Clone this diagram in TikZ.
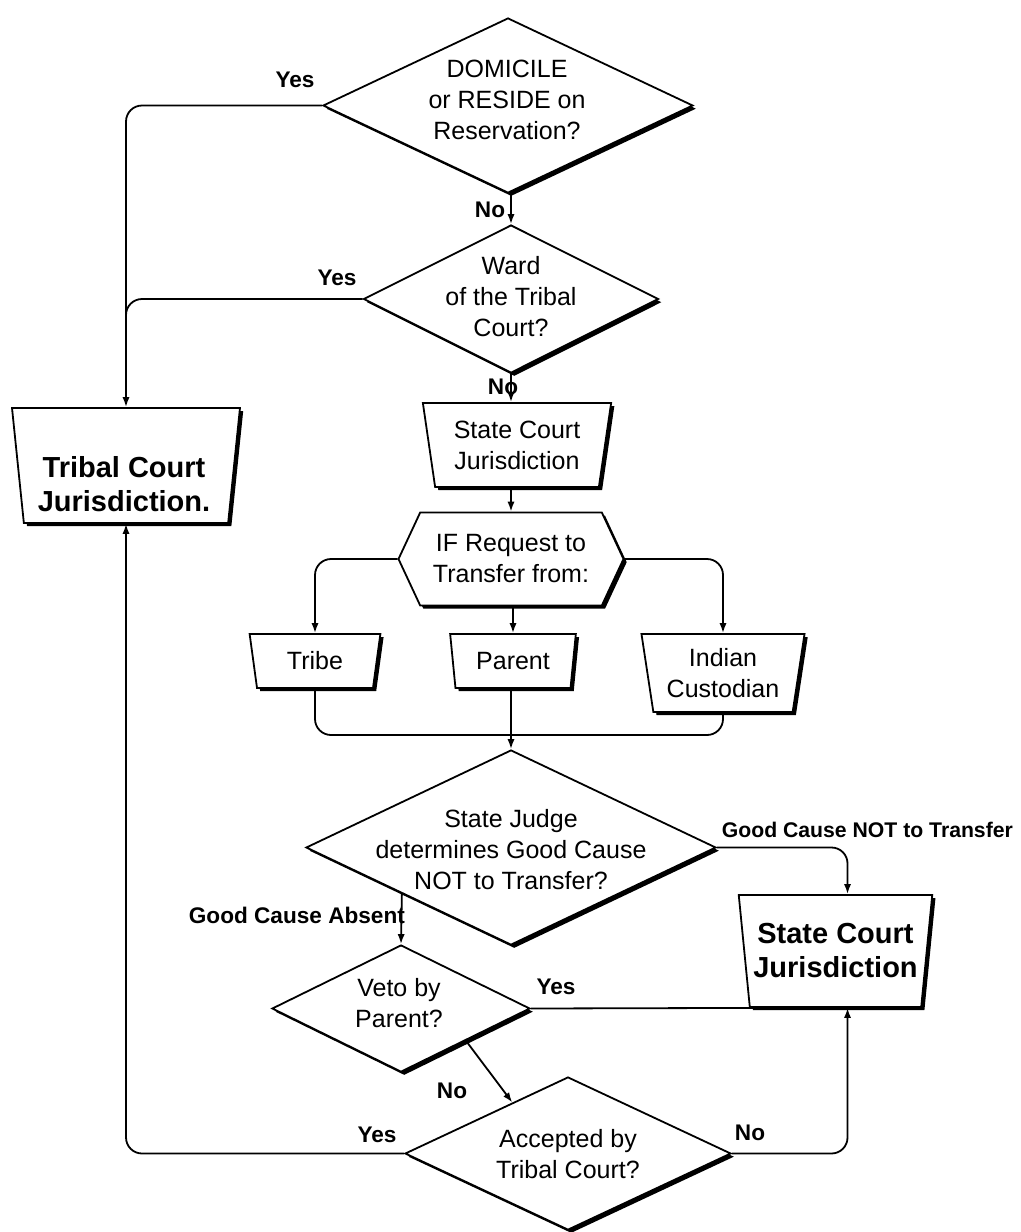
\documentclass[tikz,border=0pt]{standalone}
\usepackage{fontspec}
\setmainfont{Liberation Sans}
\usetikzlibrary{shapes.geometric,shapes.symbols,shadows,arrows.meta,calc}

% text sizes used in the chart
\newcommand\boxfont{\fontsize{12.5}{15.5}\selectfont}
\newcommand\bigboxfont{\fontsize{14.5}{17}\selectfont\bfseries}
\newcommand\lblfont{\fontsize{11.3}{13}\selectfont\bfseries}
\newcommand\edgelblfont{\fontsize{10.6}{12}\selectfont\bfseries}

\begin{document}
\begin{tikzpicture}[x=0.5pt,y=-0.5pt,line width=0.9pt,
  boxshadow/.style={drop shadow={shadow xshift=1.6pt,shadow yshift=-1.6pt,opacity=1,fill=black}},
  dec/.style={diamond,draw,fill=white,boxshadow,inner sep=0pt},
  dectext/.style={align=center,font=\boxfont,inner sep=0pt},
  trap/.style={trapezium,shape border rotate=180,trapezium stretches=true,
    trapezium left angle=79,trapezium right angle=79,draw,fill=white,boxshadow,
    inner sep=0pt,align=center,font=\boxfont},
  sig/.style={signal,signal to=west and east,signal pointer angle=130,draw,fill=white,
    boxshadow,inner sep=0pt,align=center,font=\boxfont},
  lbl/.style={font=\lblfont,inner sep=0pt},
  arr/.style={-{Latex[length=5pt,width=3.6pt]}},
  elbow/.style={rounded corners=8pt}]

\fill[white] (0,0) rectangle (1021,1232);
\useasboundingbox (0,0) rectangle (1021,1232);

% decision and process shapes
\node[dec,minimum width=185pt,minimum height=87.5pt] (dom) at (508,105.5) {};
\node[dectext] (domtxt) at (507,100) {DOMICILE\\or RESIDE on\\Reservation?};

\node[dec,minimum width=147.5pt,minimum height=74pt] (ward) at (511,299) {};
\node[dectext] (wardtxt) at (511,297) {Ward\\of the Tribal\\Court?};

\node[trap,minimum width=94.5pt,minimum height=42pt] (sc1) at (517,445) {State Court\\Jurisdiction};

\node[trap,minimum width=114pt,minimum height=57.5pt] (tribal) at (126,465.5) {\phantom{Tribal}};
\node[align=center,font=\bigboxfont,inner sep=0pt] (tribaltxt) at (124,484) {Tribal Court\\Jurisdiction.};

\node[sig,minimum width=112.5pt,minimum height=46.5pt] (ifreq) at (511,559) {IF Request to\\Transfer from:};

\node[trap,minimum width=65.5pt,minimum height=27pt] (tribe) at (315,661) {Tribe};
\node[trap,minimum width=63pt,minimum height=27pt] (parent) at (513,661) {Parent};
\node[trap,minimum width=82pt,minimum height=39pt] (indian) at (723,673) {Indian\\Custodian};

\node[dec,minimum width=205pt,minimum height=97.5pt] (judge) at (511,847.5) {};
\node[dectext] (judgetxt) at (511,850) {State Judge\\determines Good Cause\\NOT to Transfer?};

\node[trap,minimum width=97.5pt,minimum height=56pt,font=\bigboxfont] (sc2) at (835.5,951) {State Court\\Jurisdiction};

\node[dec,minimum width=129pt,minimum height=63.5pt] (veto) at (401,1008.5) {};
\node[dectext] (vetotxt) at (399,1003) {Veto by\\Parent?};

\node[dec,minimum width=163pt,minimum height=76.5pt] (acc) at (568,1153.5) {};
\node[dectext] (acctxt) at (568,1154) {Accepted by\\Tribal Court?};

% connectors
\draw[arr,elbow] (dom.west) -| (tribal.north);
\draw[elbow] (ward.west) -| ([yshift=20pt]tribal.north);
\draw[arr] (ward.north |- dom.south) -- (ward.north);
\draw[arr] (ward.south) -- (ward.south |- sc1.north);
\draw[arr] (sc1.south -| ifreq.north) -- (ifreq.north);
\draw[arr,elbow] (ifreq.west) -| (tribe.north);
\draw[arr] (ifreq.south -| parent.north) -- (parent.north);
\draw[arr,elbow] (ifreq.east) -| (indian.north);
\coordinate (merge) at (judge.north |- 0,735);
\draw[elbow] (tribe.south) |- (merge);
\draw[elbow] (indian.south) |- (merge);
\draw[arr] (parent.south -| judge.north) -- (judge.north);
\draw[arr,elbow] (judge.east) -| ([xshift=6pt]sc2.north);
\draw[arr] ($(judge.west)!0.47!(judge.south)$) -- (veto.north);
\draw (veto.east) -- ([xshift=-40pt]sc2.south);
\draw[arr] (veto.south east) -- ($(acc.north)!0.34!(acc.west)$);
\draw[arr,elbow] (acc.west) -| (tribal.south);
\draw[arr,elbow] (acc.east) -| ([xshift=6pt]sc2.south);

% branch labels
\node[lbl] (ldom) at (295,80) {Yes};
\node[lbl] (ndom) at (490,210) {No};
\node[lbl] (lward) at (337,278) {Yes};
\node[lbl] (nward) at (503,387) {No};
\node[lbl,font=\edgelblfont,anchor=west] (ngood) at (721,830) {Good Cause NOT to Transfer};
\node[lbl,anchor=west] (agood) at (188,915) {Good Cause Absent};
\node[lbl] (lveto) at (556,987) {Yes};
\node[lbl] (nveto) at (452,1091) {No};
\node[lbl] (lacc) at (377,1135) {Yes};
\node[lbl] (nacc) at (750,1133) {No};
\end{tikzpicture}
\end{document}
